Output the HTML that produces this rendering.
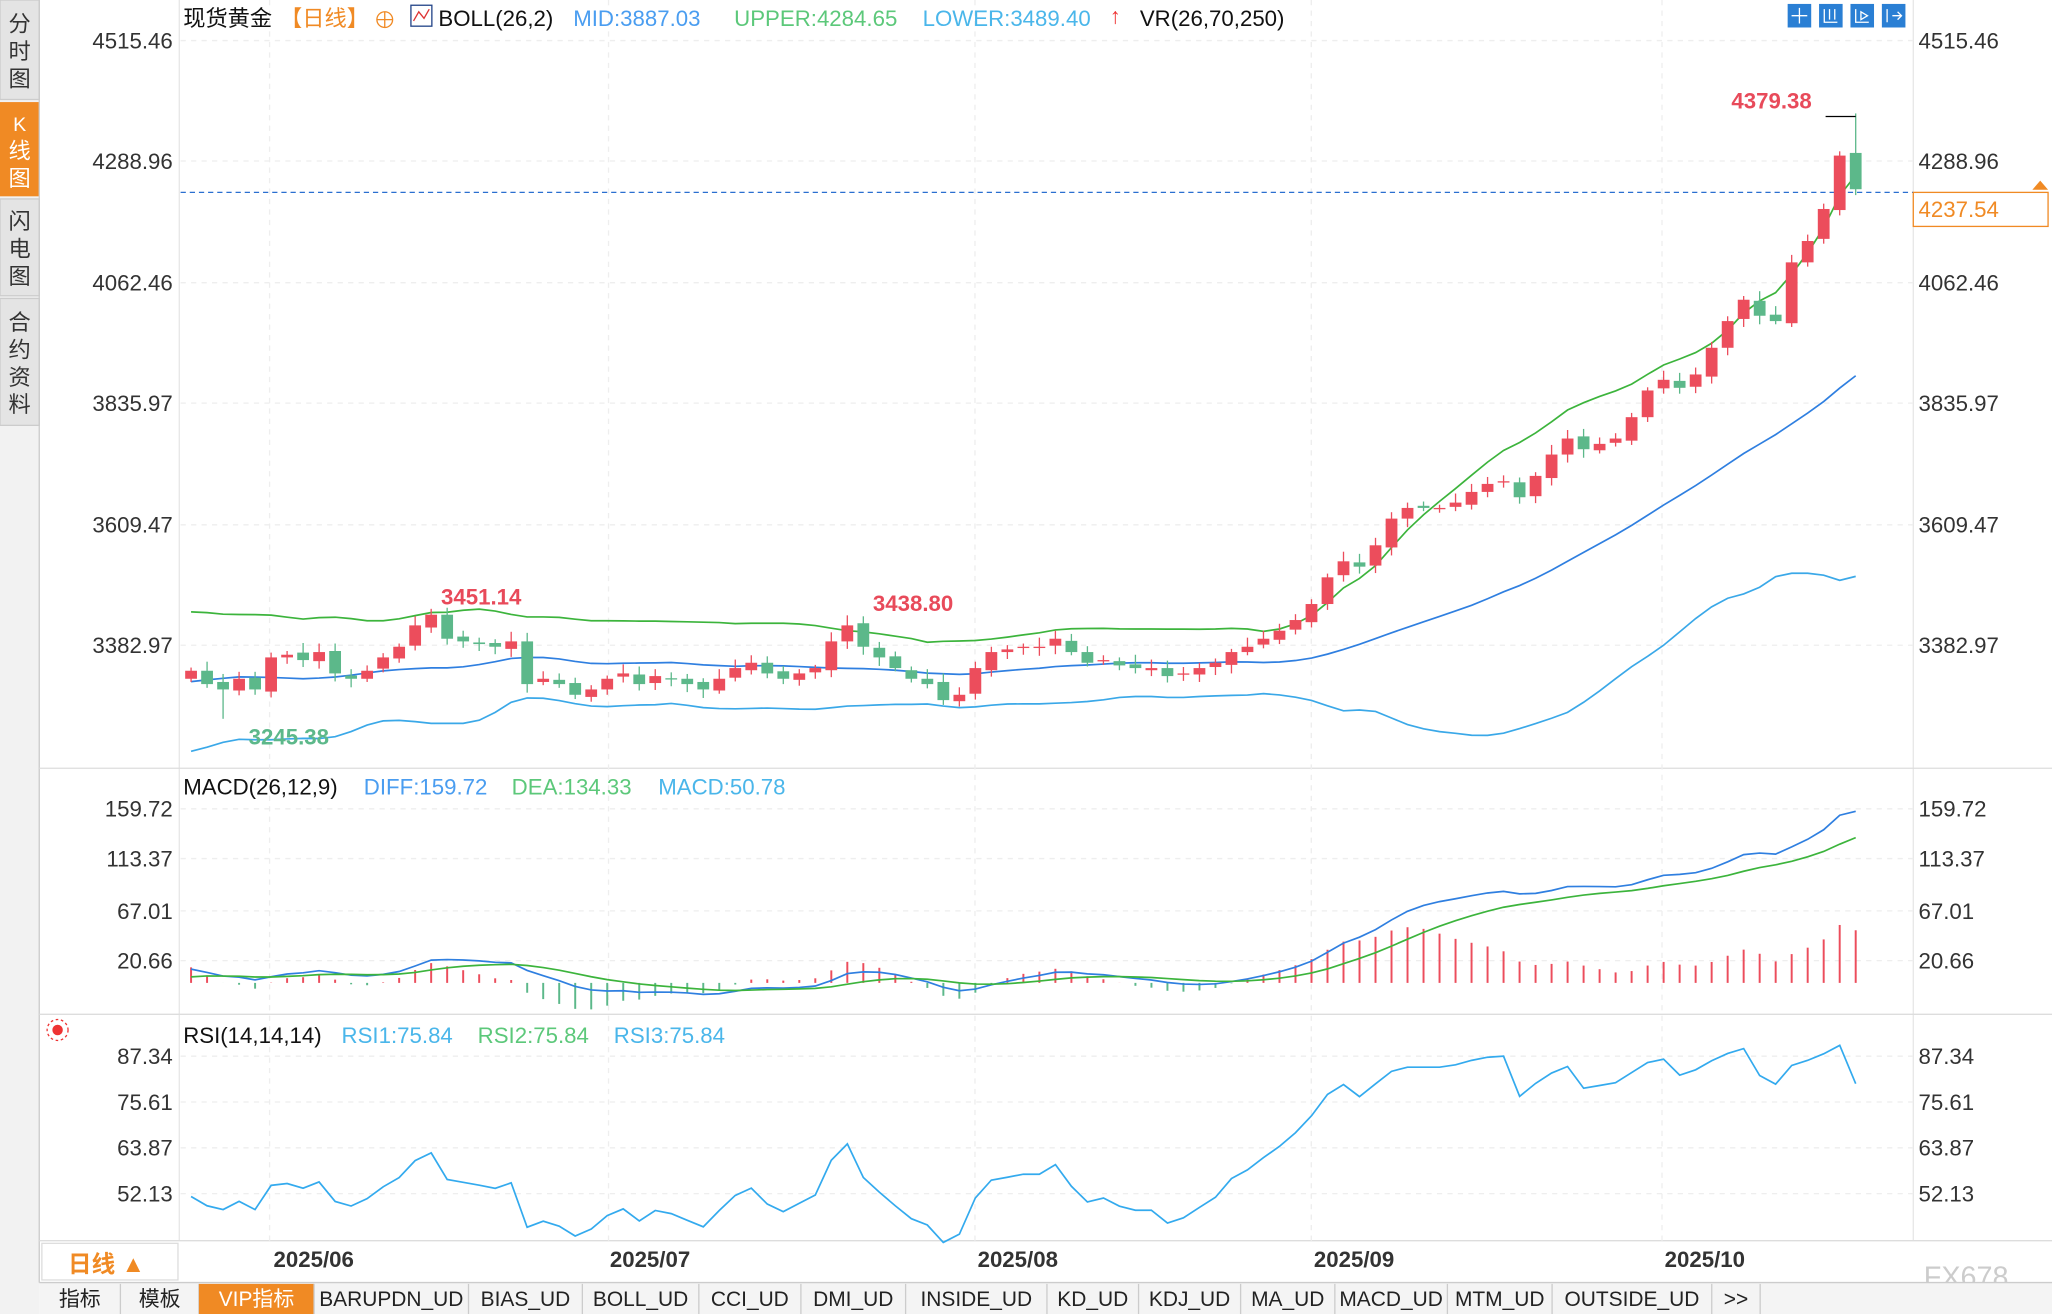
<!DOCTYPE html>
<html><head><meta charset="utf-8"><style>
html,body{margin:0;padding:0;background:#fff;overflow:hidden}
svg{display:block}
text{font-family:"Liberation Sans","Noto Sans CJK SC",sans-serif}
</style></head><body>
<svg id="s" width="2052" height="1314" viewBox="0 0 1568 1004" preserveAspectRatio="none" xmlns="http://www.w3.org/2000/svg">
<rect width="1568" height="1004" fill="#fff"/>
<!-- sidebar -->
<rect x="0" y="0" width="30" height="1004" fill="#f2f2f2"/>
<rect x="0" y="0" width="30" height="76" fill="#e4e4e4" stroke="#ccc"/>
<rect x="0" y="78" width="30" height="72" fill="#f08a24"/>
<rect x="0" y="152" width="30" height="74" fill="#e4e4e4" stroke="#ccc"/>
<rect x="0" y="228" width="30" height="97" fill="#e4e4e4" stroke="#ccc"/>
<g font-size="17" fill="#333" text-anchor="middle">
<text x="15" y="24">分</text><text x="15" y="45">时</text><text x="15" y="66">图</text>
<text x="15" y="100" fill="#fff" font-size="15">K</text><text x="15" y="121" fill="#fff">线</text><text x="15" y="142" fill="#fff">图</text>
<text x="15" y="175">闪</text><text x="15" y="196">电</text><text x="15" y="217">图</text>
<text x="15" y="252">合</text><text x="15" y="273">约</text><text x="15" y="294">资</text><text x="15" y="315">料</text>
</g>
<line x1="30" y1="0" x2="30" y2="980" stroke="#ccc"/>
<line x1="137" y1="0" x2="137" y2="948" stroke="#e6e6e6"/>
<line x1="1462" y1="0" x2="1462" y2="948" stroke="#e6e6e6"/>
<!-- panel separators -->
<line x1="30" y1="587" x2="1568" y2="587" stroke="#ddd"/>
<line x1="30" y1="775" x2="1568" y2="775" stroke="#ddd"/>
<line x1="30" y1="948" x2="1568" y2="948" stroke="#ddd"/>
<g id="grid" stroke="#eee" stroke-dasharray="4,4"></g>
<!-- axis labels -->
<g font-size="17" fill="#333">
<g text-anchor="end">
<text x="132" y="37">4515.46</text><text x="132" y="129">4288.96</text><text x="132" y="222">4062.46</text><text x="132" y="314">3835.97</text><text x="132" y="407">3609.47</text><text x="132" y="499">3382.97</text>
<text x="132" y="624">159.72</text><text x="132" y="662">113.37</text><text x="132" y="702">67.01</text><text x="132" y="740">20.66</text>
<text x="132" y="813">87.34</text><text x="132" y="848">75.61</text><text x="132" y="883">63.87</text><text x="132" y="918">52.13</text>
</g>
<text x="1466" y="37">4515.46</text><text x="1466" y="129">4288.96</text><text x="1466" y="222">4062.46</text><text x="1466" y="314">3835.97</text><text x="1466" y="407">3609.47</text><text x="1466" y="499">3382.97</text>
<text x="1466" y="624">159.72</text><text x="1466" y="662">113.37</text><text x="1466" y="702">67.01</text><text x="1466" y="740">20.66</text>
<text x="1466" y="813">87.34</text><text x="1466" y="848">75.61</text><text x="1466" y="883">63.87</text><text x="1466" y="918">52.13</text>
<g font-weight="bold">
<text x="209" y="968">2025/06</text><text x="466" y="968">2025/07</text><text x="747" y="968">2025/08</text><text x="1004" y="968">2025/09</text><text x="1272" y="968">2025/10</text>
</g>
</g>
<!-- header -->
<g font-size="17">
<text x="140" y="20" fill="#111">现货黄金</text>
<text x="214" y="20" fill="#f08a24">【日线】</text>
<circle cx="294" cy="15" r="6" fill="none" stroke="#f08a24"/><line x1="288" y1="15" x2="300" y2="15" stroke="#f08a24"/><line x1="294" y1="9" x2="294" y2="21" stroke="#f08a24"/>
<rect x="314" y="4" width="16" height="16" fill="#fff" stroke="#224488"/><polyline points="316,16 320,9 324,14 328,7" fill="none" stroke="#d33"/>
<text x="335" y="20" fill="#111">BOLL(26,2)</text>
<text x="438" y="20" fill="#4a9df0">MID:3887.03</text>
<text x="561" y="20" fill="#5cc87a">UPPER:4284.65</text>
<text x="705" y="20" fill="#4ab6ea">LOWER:3489.40</text>
<text x="848" y="18" fill="#e33" font-weight="bold">↑</text>
<text x="871" y="20" fill="#111">VR(26,70,250)</text>
<text x="140" y="607" fill="#111">MACD(26,12,9)</text>
<text x="278" y="607" fill="#4a9df0">DIFF:159.72</text>
<text x="391" y="607" fill="#5cc87a">DEA:134.33</text>
<text x="503" y="607" fill="#4ab6ea">MACD:50.78</text>
<text x="140" y="797" fill="#111">RSI(14,14,14)</text>
<text x="261" y="797" fill="#4ab6ea">RSI1:75.84</text>
<text x="365" y="797" fill="#5cc87a">RSI2:75.84</text>
<text x="469" y="797" fill="#4ab6ea">RSI3:75.84</text>
</g>
<g fill="#2a7fd4"><rect x="1366" y="3" width="18" height="18"/><rect x="1390" y="3" width="18" height="18"/><rect x="1414" y="3" width="18" height="18"/><rect x="1438" y="3" width="18" height="18"/></g>
<g stroke="#fff" fill="none"><path d="M1369 12h12M1375 6v12"/><path d="M1394 7v10h10M1398 7v8M1402 7v8"/><path d="M1418 7v10h10M1422 9l5 3-5 3z"/><path d="M1442 7v10M1446 12h7M1450 9l3 3-3 3"/></g>
<circle cx="44" cy="787" r="4" fill="#e33"/><circle cx="44" cy="787" r="8" fill="none" stroke="#e33" stroke-dasharray="2,2"/>
<!-- price line -->
<line x1="138" y1="147" x2="1462" y2="147" stroke="#2a6fd0" stroke-dasharray="4,3"/>
<rect x="1462" y="147" width="103" height="26" fill="#fff" stroke="#f08a24"/>
<text x="1466" y="166" font-size="17" fill="#f08a24">4237.54</text>
<path d="M1553 145l6-7 6 7z" fill="#f08a24"/>
<g id="plot"></g>
<!-- annotations -->
<g font-size="17" font-weight="bold">
<text x="1323" y="83" fill="#e84a5a">4379.38</text>
<text x="337" y="462" fill="#e84a5a">3451.14</text>
<text x="667" y="467" fill="#e84a5a">3438.80</text>
<text x="190" y="569" fill="#5cb88a">3245.38</text>
</g>
<line x1="1395" y1="89" x2="1418" y2="89" stroke="#000"/>
<!-- bottom -->
<rect x="32" y="950" width="104" height="28" fill="#fff" stroke="#ddd"/>
<text x="52" y="972" font-size="18" fill="#f08a24" font-weight="bold">日线 ▲</text>
<text x="1470" y="983" font-size="22" fill="#ccc">FX678</text>
<rect x="30" y="980" width="1538" height="24" fill="#f4f4f4"/>
<line x1="30" y1="980" x2="1568" y2="980" stroke="#ccc"/>
<g id="tabs" font-size="16" fill="#222"></g>
</svg>
<script>
var C=[3335,3310,3300,3320,3300,3360,3365,3355,3370,3330,3320,3335,3360,3380,3420,3440,3395,3390,3385,3380,3390,3310,3320,3310,3290,3300,3320,3330,3310,3325,3320,3310,3300,3320,3340,3350,3330,3320,3330,3340,3390,3420,3380,3360,3340,3320,3310,3280,3290,3340,3370,3375,3380,3380,3395,3370,3350,3355,3345,3340,3340,3325,3330,3340,3350,3370,3380,3395,3410,3430,3460,3510,3540,3530,3570,3620,3640,3640,3640,3650,3670,3685,3690,3660,3700,3740,3770,3750,3760,3770,3810,3860,3880,3865,3890,3940,3990,4030,4000,3990,4100,4140,4200,4300,4237];
var n=C.length,x0=146,x1=1418,dx=(x1-x0)/(n-1);
function X(i){return x0+i*dx}
function PY(p){return 31+(4515.46-p)*0.4079}
var NS="http://www.w3.org/2000/svg",plot=document.getElementById('plot');
function el(t,a,par){var e=document.createElementNS(NS,t);for(var k in a)e.setAttribute(k,a[k]);(par||plot).appendChild(e);return e}
// grid
var g=document.getElementById('grid');
[31,123,216,308,401,493,618,656,696,734,807,842,877,912].forEach(function(y){el('line',{x1:138,y1:y,x2:1462,y2:y},g)});
[206,465,745,1002,1270].forEach(function(x){el('line',{x1:x,y1:0,x2:x,y2:948},g)});
// padding for indicators
var P=[];for(var k=0;k<40;k++)P.push(3300+90*Math.sin(k*0.7)+k*0.5);
var A=P.concat(C),off=P.length;
var red="#ec4d5c",grn="#5cb88a";
// boll
var up=[],md=[],lo=[];
for(var i=0;i<n;i++){var j=i+off,s=0;for(var k=j-25;k<=j;k++)s+=A[k];var m=s/26,v=0;for(var k=j-25;k<=j;k++)v+=(A[k]-m)*(A[k]-m);var sd=Math.sqrt(v/26);md.push(m);up.push(m+2*sd);lo.push(m-2*sd);}
function pl(arr,f,col,w){var pts=arr.map(function(v,i){return X(i).toFixed(1)+','+f(v).toFixed(1)}).join(' ');el('polyline',{points:pts,fill:'none',stroke:col,'stroke-width':w||1.3})}
pl(up,PY,'#3cb43c');pl(md,PY,'#2f7fe0');pl(lo,PY,'#3aa8e8');
// candles
for(var i=0;i<n;i++){var o=i?C[i-1]+((i*7)%5-2)*2:3320;if(i==n-1)o=4305;var c=C[i];
var h=Math.max(o,c)+6+(i*37)%13,l=Math.min(o,c)-6-(i*23)%11;
if(i==15)h=3451;if(i==2)l=3245;if(i==41)h=3438.8;if(i==n-1)h=4379;
var col=c>=o?red:grn,x=X(i);
el('line',{x1:x,y1:PY(h),x2:x,y2:PY(l),stroke:col});
var t=PY(Math.max(o,c)),b=PY(Math.min(o,c));el('rect',{x:x-4.5,y:t,width:9,height:Math.max(1,b-t),fill:col});}
// macd
function ema(a,p){var k=2/(p+1),r=[a[0]];for(var i=1;i<a.length;i++)r.push(a[i]*k+r[i-1]*(1-k));return r}
var e12=ema(A,12),e26=ema(A,26),dif=e12.map(function(v,i){return v-e26[i]}),dea=ema(dif,9);
var D=dif.slice(off),E=dea.slice(off);
function MY(v){return 751-v*0.835}
for(var i=0;i<n;i++){var m=2*(D[i]-E[i]);el('line',{x1:X(i),y1:751,x2:X(i),y2:MY(m),stroke:m>=0?red:grn,'stroke-width':1.5})}
pl(D,MY,'#2f7fe0');pl(E,MY,'#3cb43c');
// rsi
var R=[],ag=0,al=0;for(var j=1;j<A.length;j++){var d=A[j]-A[j-1],gg=Math.max(d,0),ll=Math.max(-d,0);if(j<=14){ag+=gg/14;al+=ll/14}else{ag=(ag*13+gg)/14;al=(al*13+ll)/14}if(j>=off)R.push(100-100/(1+ag/(al||1e-6)))}
pl(R,function(r){return 807+(87.34-r)*2.98},'#33aaee');
// tabs
var tabs=["指标","模板","VIP指标","BARUPDN_UD","BIAS_UD","BOLL_UD","CCI_UD","DMI_UD","INSIDE_UD","KD_UD","KDJ_UD","MA_UD","MACD_UD","MTM_UD","OUTSIDE_UD",">>"];
var xs=[30,92,152,240,358,445,534,612,692,800,870,948,1020,1106,1186,1308,1345];
var tg=document.getElementById('tabs');
tabs.forEach(function(t,i){var a=xs[i],b=xs[i+1];if(t=="VIP指标")el('rect',{x:a,y:981,width:b-a,height:23,fill:'#f08a24'},tg);
el('line',{x1:b,y1:981,x2:b,y2:1004,stroke:'#ccc'},tg);
var tx=el('text',{x:(a+b)/2,y:998,'text-anchor':'middle',fill:t=="VIP指标"?'#fff':'#222'},tg);tx.textContent=t;});
</script>
</body></html>
